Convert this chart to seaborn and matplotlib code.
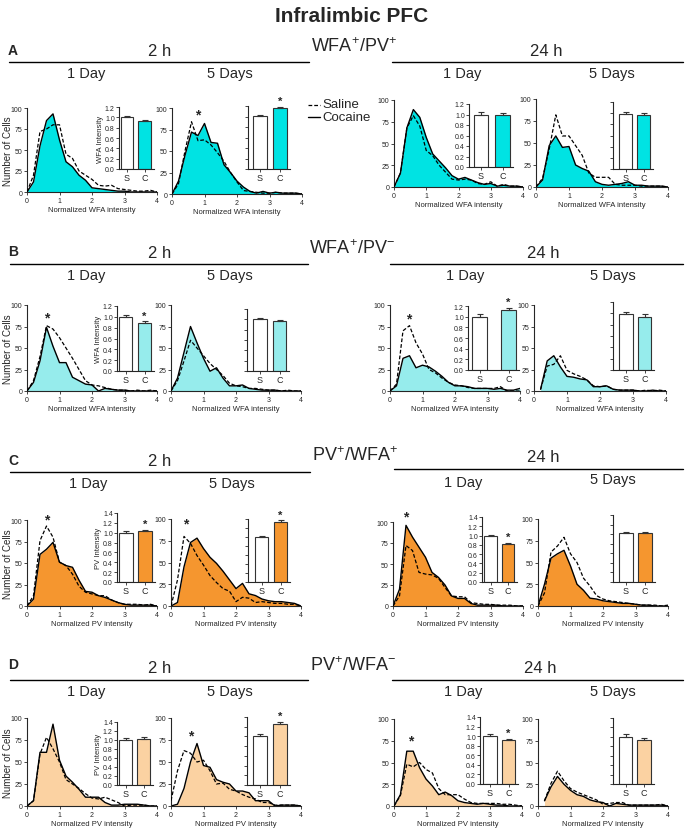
import numpy as np
import pandas as pd
import matplotlib
matplotlib.use("Agg")
import matplotlib.pyplot as plt
from matplotlib.lines import Line2D
import seaborn as sns

# ---------------- data ----------------
intensity = [0.0, 0.2, 0.4, 0.6, 0.8, 1.0, 1.2, 1.4, 1.6, 1.8, 2.0,
             2.2, 2.4, 2.6, 2.8, 3.0, 3.2, 3.4, 3.6, 3.8, 4.0]
nan = np.nan

# A: WFA+/PV+
A_2h_1d_sal = [0, 20, 72, 75, 80, 80, 45, 40, 25, 20, 15, 8, 7, 8, 4, 3, 2, 1, 1, 2, 0]
A_2h_1d_coc = [0, 12, 55, 85, 93, 62, 36, 30, 20, 14, 5, 4, 3, 2, 1, 1, 0, 0, 0, 0, 0]
A_2h_5d_sal = [0, 12, 50, 84, 62, 63, 57, 48, 38, 25, 14, 4, 3, 2, 1, 1, 2, 1, 1, 1, 0]
A_2h_5d_coc = [0, 15, 45, 72, 68, 82, 60, 59, 34, 25, 15, 8, 3, 1, 3, 1, 2, 1, 1, 1, 0]
A_24h_1d_sal = [0, 16, 68, 82, 70, 42, 36, 25, 17, 9, 8, 9, 8, 4, 3, 6, 1, 3, 1, 1, 0]
A_24h_1d_coc = [0, 16, 68, 89, 80, 57, 38, 30, 22, 13, 9, 11, 8, 5, 3, 4, 1, 2, 1, 1, 0]
A_24h_5d_sal = [0, 10, 43, 82, 58, 58, 47, 36, 16, 11, 11, 11, 3, 2, 2, 2, 1, 1, 1, 1, 0]
A_24h_5d_coc = [0, 8, 47, 58, 45, 46, 25, 21, 18, 6, 3, 2, 3, 4, 6, 2, 2, 1, 1, 1, 0]
# B: WFA+/PV-
B_2h_1d_sal = [0, 12, 40, 76, 72, 62, 50, 38, 25, 12, 7, 6, 4, 2, 1, 1, 0, 1, 0, 1, 0]
B_2h_1d_coc = [0, 10, 35, 74, 52, 33, 33, 16, 12, 8, 7, 0, 3, 2, 1, 1, 0, 0, 0, 0, 0]
B_2h_5d_sal = [0, 12, 35, 59, 50, 41, 32, 25, 18, 9, 6, 5, 3, 3, 2, 1, 1, 0, 1, 0, 0]
B_2h_5d_coc = [0, 15, 45, 75, 56, 38, 23, 27, 15, 6, 6, 7, 3, 2, 1, 1, 1, 0, 0, 0, 0]
B_24h_1d_sal = [0, 8, 70, 76, 56, 43, 25, 21, 15, 10, 7, 6, 4, 3, 3, 3, 3, 5, 0, 0, 0]
B_24h_1d_coc = [0, 6, 38, 41, 27, 30, 28, 23, 17, 10, 6, 6, 5, 3, 3, 3, 2, 3, 1, 1, 3]
B_24h_5d_sal = [nan, 2, 29, 31, 41, 24, 20, 17, 13, 6, 5, 6, 2, 1, 1, 1, 0, 1, 0, 1, 0]
B_24h_5d_coc = [nan, 2, 35, 41, 28, 17, 16, 14, 13, 5, 5, 6, 2, 1, 1, 1, 0, 0, 1, 0, 0]
# C: PV+/WFA+
C_2h_1d_sal = [0, 12, 76, 93, 80, 51, 47, 37, 23, 16, 14, 12, 12, 7, 4, 2, 2, 2, 1, 2, 0]
C_2h_1d_coc = [0, 8, 60, 66, 74, 51, 47, 45, 30, 17, 16, 12, 10, 7, 4, 2, 1, 1, 1, 1, 0]
C_2h_5d_sal = [0, 30, 80, 72, 58, 47, 35, 27, 20, 17, 5, 10, 9, 4, 5, 4, 3, 3, 2, 2, 0]
C_2h_5d_coc = [0, 4, 45, 73, 78, 66, 56, 49, 40, 30, 20, 26, 14, 12, 8, 6, 5, 5, 4, 3, 0]
C_24h_1d_sal = [0, 12, 72, 66, 40, 38, 37, 33, 22, 12, 11, 11, 4, 3, 2, 2, 1, 1, 1, 0, 0]
C_24h_1d_coc = [0, 20, 96, 82, 70, 58, 40, 34, 25, 12, 9, 9, 3, 1, 1, 1, 1, 0, 0, 0, 0]
C_24h_5d_sal = [0, 15, 62, 69, 79, 60, 50, 32, 23, 12, 8, 6, 5, 4, 3, 2, 1, 1, 1, 0, 1]
C_24h_5d_coc = [0, 25, 55, 60, 64, 46, 25, 18, 9, 8, 6, 5, 4, 3, 3, 2, 1, 1, 0, 0, 0]
# D: PV+/WFA-
D_2h_1d_sal = [0, 6, 59, 78, 65, 50, 30, 25, 20, 14, 9, 8, 10, 7, 4, 0, 1, 1, 1, 0, 0]
D_2h_1d_coc = [0, 6, 61, 61, 93, 52, 34, 27, 19, 10, 10, 10, 4, 1, 1, 2, 2, 2, 1, 0, 0]
D_2h_5d_sal = [6, 40, 63, 60, 50, 52, 40, 25, 26, 19, 17, 13, 10, 8, 4, 4, 1, 1, 1, 1, 0]
D_2h_5d_coc = [0, 2, 20, 50, 71, 46, 44, 30, 27, 25, 17, 17, 15, 6, 6, 6, 0, 1, 1, 1, 0]
D_24h_1d_sal = [0, 12, 48, 45, 50, 42, 38, 20, 13, 13, 13, 8, 4, 3, 3, 3, 3, 2, 2, 1, 0]
D_24h_1d_coc = [0, 13, 63, 63, 44, 31, 23, 13, 16, 12, 6, 4, 3, 2, 3, 2, 1, 1, 0, 0, 0]
D_24h_5d_sal = [nan, 6, 26, 40, 29, 20, 16, 13, 10, 7, 2, 3, 4, 4, 1, 1, 1, 1, 1, 2, 0]
D_24h_5d_coc = [nan, 6, 22, 34, 25, 18, 13, 11, 7, 5, 4, 0, 3, 2, 1, 1, 1, 1, 1, 1, 0]

# inset bar data (order per row: 2h-1d, 2h-5d, 24h-1d, 24h-5d)
inset_groups = ["S", "C"]
A_saline_mean = [1.00, 1.01, 0.99, 0.99]
A_cocaine_mean = [0.92, 1.16, 1.00, 0.96]
A_saline_sem = [0.02, 0.02, 0.05, 0.03]
A_cocaine_sem = [0.03, 0.03, 0.03, 0.04]
A_cocaine_sig = [False, True, False, False]
B_saline_mean = [1.00, 1.00, 1.00, 0.99]
B_cocaine_mean = [0.89, 0.96, 1.12, 0.94]
B_saline_sem = [0.03, 0.03, 0.05, 0.04]
B_cocaine_sem = [0.03, 0.03, 0.05, 0.05]
B_cocaine_sig = [True, False, True, False]
C_saline_mean = [1.00, 1.00, 0.99, 1.02]
C_cocaine_mean = [1.03, 1.33, 0.82, 1.02]
C_saline_sem = [0.03, 0.03, 0.03, 0.03]
C_cocaine_sem = [0.03, 0.04, 0.03, 0.03]
C_cocaine_sig = [True, True, True, False]
D_saline_mean = [1.00, 1.00, 1.00, 1.00]
D_cocaine_mean = [1.02, 1.26, 0.91, 0.94]
D_saline_sem = [0.04, 0.04, 0.04, 0.06]
D_cocaine_sem = [0.04, 0.04, 0.04, 0.04]
D_cocaine_sig = [False, True, True, False]

# histogram significance stars (x, y) or None
A_hist_star = [None, (0.8, 93), None, None]
B_hist_star = [(0.6, 85), None, (0.58, 84), None]
C_hist_star = [(0.6, 101), (0.45, 95), (0.4, 106), None]
D_hist_star = [None, (0.6, 80), (0.52, 75), None]

row_letters = ["A", "B", "C", "D"]
row_markers = ["WFA$^{\\mathregular{+}}$/PV$^{\\mathregular{+}}$",
               "WFA$^{\\mathregular{+}}$/PV$^{\\mathregular{-}}$",
               "PV$^{\\mathregular{+}}$/WFA$^{\\mathregular{+}}$",
               "PV$^{\\mathregular{+}}$/WFA$^{\\mathregular{-}}$"]
time_labels = ["2 h", "24 h"]
day_labels = ["1 Day", "5 Days"]
hist_xlabels = ["Normalized WFA intensity", "Normalized WFA intensity",
                "Normalized PV intensity", "Normalized PV intensity"]
hist_ylabel = "Number of Cells"
inset_ylabels = ["WFA Intensity", "WFA Intensity", "PV Intensity", "PV Intensity"]
legend_labels = ["Saline", "Cocaine"]
title_text = "Infralimbic PFC"

# ---------------- styles / layout (pixels) ----------------
row_colors = ["#00E3E3", "#96ECEC", "#F5962F", "#FBD2A2"]
inset_ymax = [1.2, 1.2, 1.4, 1.4]

# hist axes: (x at 0, x at 4, y at 100, y at 0)
hist_geom = [
    [(27, 157, 109, 193), (172, 302, 109, 195), (394, 523, 101, 188), (536, 668, 100, 188)],
    [(27, 157, 306, 392), (171, 301, 306, 392), (390, 520, 306, 392), (534, 666, 306, 392)],
    [(27, 157, 521, 607), (171, 301, 520, 607), (393, 523, 523, 607), (538, 668, 520, 607)],
    [(27, 157, 719, 807), (171, 301, 719, 807), (394, 522, 720, 807), (538, 668, 720, 807)],
]
# inset axes: (spine x, top, bottom, S left, S right, C left, C right)
inset_geom = [
    [(119, 108, 170, 121, 133, 138, 151), (248, 107, 170, 253, 267, 273, 287),
     (469, 105, 168, 474, 488, 495, 510), (613, 103, 170, 619, 632, 637, 650)],
    [(117, 307, 372, 119, 132, 138, 151), (247, 310, 372, 253, 267, 273, 286),
     (468, 307, 371, 472, 487, 501, 516), (613, 303, 371, 619, 633, 638, 651)],
    [(117, 514, 583, 119, 133, 138, 152), (248, 520, 583, 255, 268, 274, 287),
     (482, 518, 583, 484, 497, 502, 514), (613, 516, 583, 619, 633, 638, 652)],
    [(117, 723, 786, 119, 132, 137, 150), (247, 718, 786, 253, 267, 273, 287),
     (480, 718, 785, 483, 497, 502, 515), (613, 719, 785, 619, 632, 637, 651)],
]
header_geom = [
    dict(letter=(8, 51), t2=(160, 52), t24=(546, 52), mark=(354, 47), lineL=(9, 309, 63),
         lineR=(392, 683, 63), subL=[(86, 74), (230, 74)], subR=[(462, 74), (612, 74)]),
    dict(letter=(8, 252), t2=(160, 254), t24=(543, 254), mark=(352, 249), lineL=(10, 308, 265),
         lineR=(390, 683, 265), subL=[(86, 276), (230, 276)], subR=[(465, 276), (613, 276)]),
    dict(letter=(8, 461), t2=(160, 462), t24=(543, 458), mark=(355, 456), lineL=(10, 310, 473),
         lineR=(394, 683, 470), subL=[(88, 484), (232, 484)], subR=[(463, 483), (613, 480)]),
    dict(letter=(8, 665), t2=(160, 669), t24=(540, 669), mark=(353, 666), lineL=(10, 308, 681),
         lineR=(392, 683, 681), subL=[(86, 692), (230, 692)], subR=[(463, 692), (613, 692)]),
]

sns.set_theme(style="ticks")
plt.rcParams["font.family"] = ["Liberation Sans", "DejaVu Sans"]
plt.rcParams["mathtext.fontset"] = "custom"
plt.rcParams["mathtext.rm"] = "Liberation Sans"
plt.rcParams["mathtext.it"] = "Liberation Sans:italic"
plt.rcParams["mathtext.bf"] = "Liberation Sans:bold"
plt.rcParams["axes.linewidth"] = 0.8

W, H = 688, 829
fig = plt.figure(figsize=(W / 100, H / 100), dpi=100)


def ax_px(left, top, right, bottom):
    return fig.add_axes([left / W, 1 - bottom / H, (right - left) / W, (bottom - top) / H])


def ftext(x, y, s, **kw):
    kw.setdefault("ha", "center")
    kw.setdefault("va", "center")
    fig.text(x / W, 1 - y / H, s, **kw)


def fline(x0, x1, y, lw=1.0, ls="-"):
    fig.add_artist(Line2D([x0 / W, x1 / W], [1 - y / H, 1 - y / H],
                          transform=fig.transFigure, color="black", lw=lw, linestyle=ls))


def draw_hist(geom, sal, coc, color, xlabel, star):
    x0, x4, y100, y0 = geom
    ax = ax_px(x0, y100, x4, y0)
    df = pd.DataFrame({"intensity": intensity, "Saline": sal, "Cocaine": coc}).dropna()
    ax.fill_between(df["intensity"], df["Cocaine"], 0, color=color, lw=0, zorder=1)
    sns.lineplot(data=df, x="intensity", y="Cocaine", ax=ax, color="black", lw=1.0,
                 estimator=None, sort=False, zorder=2)
    sns.lineplot(data=df, x="intensity", y="Saline", ax=ax, color="black", lw=0.9,
                 linestyle=(0, (3, 1.6)), estimator=None, sort=False, zorder=3)
    ax.set_xlim(0, 4)
    ax.set_ylim(0, 100)
    ax.set_xticks([0, 1, 2, 3, 4])
    ax.set_yticks([0, 25, 50, 75, 100])
    ax.tick_params(labelsize=5, length=2.5, width=0.6, pad=1)
    ax.set_xlabel(xlabel, fontsize=5.5, labelpad=1.5)
    ax.set_ylabel("")
    sns.despine(ax=ax)
    for sp in ax.spines.values():
        sp.set_clip_on(False)
    if star is not None:
        ax.text(star[0], star[1], "*", ha="center", va="center", fontsize=10,
                fontweight="bold", clip_on=False)
    return ax


def draw_inset(geom, s, c, se, ce, sig, color, ymax, labels, ylabel):
    spx, top, bot, sl, sr, cl, cr = geom
    right = cr + 3
    ax = ax_px(spx, top, right, bot)
    cs, cc = (sl + sr) / 2, (cl + cr) / 2
    D = cc - cs
    wfrac = ((sr - sl) + (cr - cl)) / 2 / D
    sns.barplot(x=inset_groups, y=[s, c], hue=inset_groups,
                palette={"S": "white", "C": color}, saturation=1, width=wfrac, ax=ax,
                legend=False, errorbar=None, linewidth=0.8, edgecolor="#333333")
    ax.errorbar([0, 1], [s, c], yerr=[[0, 0], [se, ce]], fmt="none", ecolor="#333333",
                elinewidth=0.8, capsize=2, capthick=0.8)
    ax.set_xlim(-(cs - spx) / D, 1 + (right - cc) / D)
    ax.set_ylim(0, ymax)
    yt = np.round(np.arange(0, ymax + 0.001, 0.2), 1)
    ax.set_yticks(yt)
    if labels:
        ax.set_yticklabels([f"{v:.1f}" for v in yt])
    else:
        ax.set_yticklabels([])
    ax.tick_params(axis="y", labelsize=5, length=2, width=0.6, pad=1)
    ax.tick_params(axis="x", labelsize=6.5, length=2, width=0.6, pad=1)
    ax.set_xlabel("")
    ax.set_ylabel(ylabel, fontsize=5.5, labelpad=1)
    sns.despine(ax=ax)
    if sig:
        ax.text(1, c + ce + 0.01 * ymax, "*", ha="center", va="bottom", fontsize=8,
                fontweight="bold", clip_on=False)
    return ax


rows = [
    (A_2h_1d_sal, A_2h_1d_coc, A_2h_5d_sal, A_2h_5d_coc, A_24h_1d_sal, A_24h_1d_coc, A_24h_5d_sal, A_24h_5d_coc),
    (B_2h_1d_sal, B_2h_1d_coc, B_2h_5d_sal, B_2h_5d_coc, B_24h_1d_sal, B_24h_1d_coc, B_24h_5d_sal, B_24h_5d_coc),
    (C_2h_1d_sal, C_2h_1d_coc, C_2h_5d_sal, C_2h_5d_coc, C_24h_1d_sal, C_24h_1d_coc, C_24h_5d_sal, C_24h_5d_coc),
    (D_2h_1d_sal, D_2h_1d_coc, D_2h_5d_sal, D_2h_5d_coc, D_24h_1d_sal, D_24h_1d_coc, D_24h_5d_sal, D_24h_5d_coc),
]
insets = [
    (A_saline_mean, A_cocaine_mean, A_saline_sem, A_cocaine_sem, A_cocaine_sig),
    (B_saline_mean, B_cocaine_mean, B_saline_sem, B_cocaine_sem, B_cocaine_sig),
    (C_saline_mean, C_cocaine_mean, C_saline_sem, C_cocaine_sem, C_cocaine_sig),
    (D_saline_mean, D_cocaine_mean, D_saline_sem, D_cocaine_sem, D_cocaine_sig),
]
hist_stars = [A_hist_star, B_hist_star, C_hist_star, D_hist_star]

for r in range(4):
    color = row_colors[r]
    for p in range(4):
        sal = rows[r][2 * p]
        coc = rows[r][2 * p + 1]
        draw_hist(hist_geom[r][p], sal, coc, color, hist_xlabels[r], hist_stars[r][p])
        sm, cm, ss, cs_, sg = insets[r]
        draw_inset(inset_geom[r][p], sm[p], cm[p], ss[p], cs_[p], sg[p], color,
                   inset_ymax[r], labels=(p in (0, 2)),
                   ylabel=inset_ylabels[r] if p == 0 else "")
    # y label for the leftmost histogram of the row
    g = hist_geom[r][0]
    ftext(8, (g[2] + g[3]) / 2, hist_ylabel, fontsize=7, rotation=90)
    hg = header_geom[r]
    ftext(*hg["letter"], row_letters[r], fontsize=10, fontweight="bold", ha="left")
    ftext(*hg["t2"], time_labels[0], fontsize=12)
    ftext(*hg["t24"], time_labels[1], fontsize=12)
    ftext(*hg["mark"], row_markers[r], fontsize=13)
    fline(*hg["lineL"])
    fline(*hg["lineR"])
    for (x, y), lab in zip(hg["subL"], day_labels):
        ftext(x, y, lab, fontsize=10.5)
    for (x, y), lab in zip(hg["subR"], day_labels):
        ftext(x, y, lab, fontsize=10.5)

# title
ftext(352, 16, title_text, fontsize=15, fontweight="bold")

# legend (Saline dashed, Cocaine solid)
fline(308, 320, 106, lw=0.9, ls=(0, (3, 1.6)))
fline(308, 320, 118, lw=1.0)
ftext(322, 105, legend_labels[0], fontsize=9.5, ha="left")
ftext(322, 118, legend_labels[1], fontsize=9.5, ha="left")

fig.savefig("out.png", dpi=100)
